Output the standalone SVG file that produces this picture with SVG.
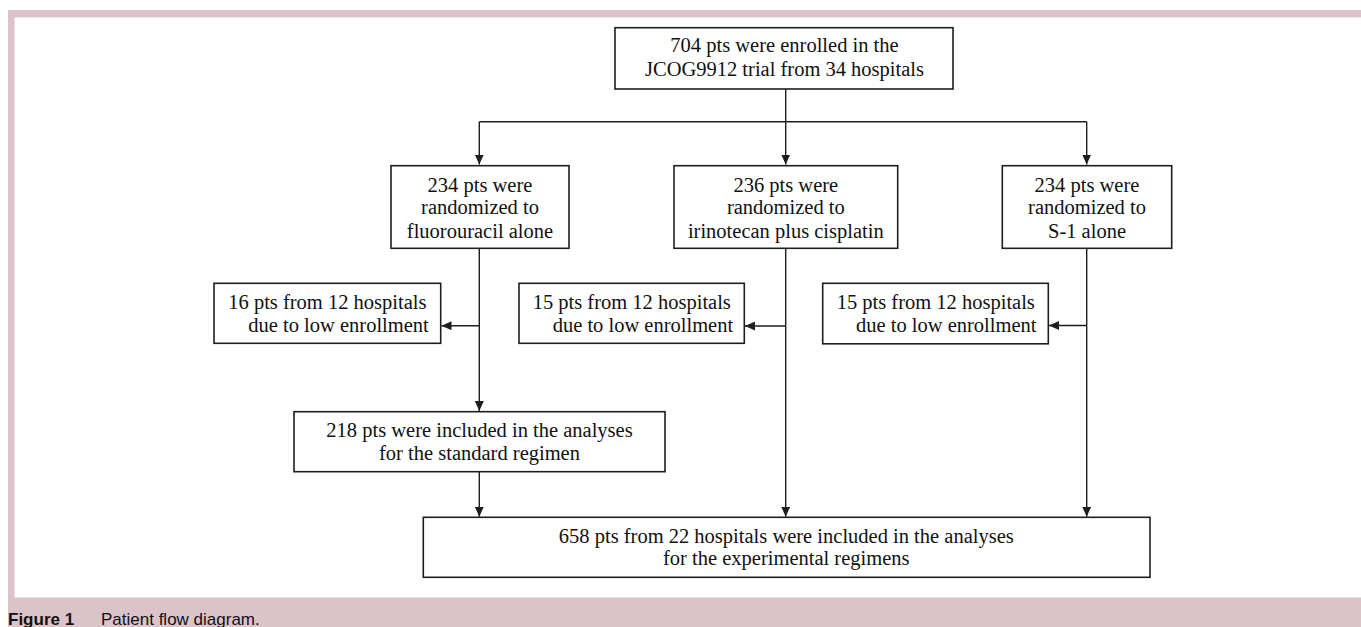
<svg xmlns="http://www.w3.org/2000/svg" width="1361" height="627" viewBox="0 0 1361 627">
  <style>
    .box { fill: #ffffff; stroke: #1e1e1e; stroke-width: 1.6; }
    .t { font-family: "Liberation Serif", "Times New Roman", serif; font-size: 20.5px; fill: #111111; }
    .c { text-anchor: middle; }
    .conn path { fill: none; stroke: #1e1e1e; stroke-width: 1.4; }
    .cap { font-family: "Liberation Sans", Arial, sans-serif; font-size: 17px; fill: #111111; }
  </style>
  <defs>
    <marker id="ah" markerUnits="userSpaceOnUse" markerWidth="10" markerHeight="9" refX="10" refY="4.5" orient="auto">
      <path d="M0,0 L10,4.5 L0,9 z" fill="#1e1e1e"/>
    </marker>
  </defs>

  <rect x="0" y="0" width="1361" height="627" fill="#ffffff"/>
  <g id="frame">
    <rect x="8" y="10" width="1353" height="7.5" fill="#dbc3c9"/>
    <rect x="8" y="10" width="6.5" height="590" fill="#dbc3c9"/>
    <rect x="8" y="597.5" width="1353" height="29.5" fill="#dbc3c9"/>
    <text class="cap" x="8" y="624.5"><tspan font-weight="bold">Figure 1</tspan><tspan x="101">Patient flow diagram.</tspan></text>
  </g>

  <g class="conn" id="connectors">
    <path d="M785.7,89 V164.5" marker-end="url(#ah)"/>
    <path d="M479.3,121.7 H1086.7"/>
    <path d="M479.3,121.7 V164.5" marker-end="url(#ah)"/>
    <path d="M1086.7,121.7 V164.5" marker-end="url(#ah)"/>
    <path d="M479.3,248.3 V411" marker-end="url(#ah)"/>
    <path d="M479.3,325.7 H441.5" marker-end="url(#ah)"/>
    <path d="M479.3,471.7 V516.7" marker-end="url(#ah)"/>
    <path d="M785.7,248.3 V516.7" marker-end="url(#ah)"/>
    <path d="M785.7,326 H745" marker-end="url(#ah)"/>
    <path d="M1086.7,248.3 V516.7" marker-end="url(#ah)"/>
    <path d="M1086.7,325.5 H1049" marker-end="url(#ah)"/>
  </g>

  <g id="n-enrolled">
    <rect class="box" x="615" y="27.7" width="338" height="61.3"/>
    <text class="t c" x="784.5" y="52.3">704 pts were enrolled in the</text>
    <text class="t c" x="784.5" y="75.7">JCOG9912 trial from 34 hospitals</text>
  </g>

  <g id="n-fluorouracil">
    <rect class="box" x="391" y="165.7" width="178" height="82.6"/>
    <text class="t c" x="480" y="191.7">234 pts were</text>
    <text class="t c" x="480" y="214.3">randomized to</text>
    <text class="t c" x="480" y="237.7">fluorouracil alone</text>
  </g>

  <g id="n-irinotecan">
    <rect class="box" x="674" y="165.7" width="223.7" height="82.6"/>
    <text class="t c" x="785.8" y="191.7">236 pts were</text>
    <text class="t c" x="785.8" y="214.3">randomized to</text>
    <text class="t c" x="785.8" y="237.7">irinotecan plus cisplatin</text>
  </g>

  <g id="n-s1">
    <rect class="box" x="1002.3" y="165.7" width="169.4" height="82.6"/>
    <text class="t c" x="1087" y="191.7">234 pts were</text>
    <text class="t c" x="1087" y="214.3">randomized to</text>
    <text class="t c" x="1087" y="237.7">S-1 alone</text>
  </g>

  <g id="n-excl-1">
    <rect class="box" x="214" y="283.3" width="226.7" height="60"/>
    <text class="t" x="228.3" y="309.3">16 pts from 12 hospitals</text>
    <text class="t" x="248.3" y="331.7">due to low enrollment</text>
  </g>

  <g id="n-excl-2">
    <rect class="box" x="519" y="283.3" width="225.3" height="60"/>
    <text class="t" x="532.7" y="309.3">15 pts from 12 hospitals</text>
    <text class="t" x="552.7" y="331.7">due to low enrollment</text>
  </g>

  <g id="n-excl-3">
    <rect class="box" x="822.7" y="283.3" width="225.6" height="60.5"/>
    <text class="t" x="836.7" y="309.3">15 pts from 12 hospitals</text>
    <text class="t" x="856" y="331.7">due to low enrollment</text>
  </g>

  <g id="n-standard">
    <rect class="box" x="294" y="411.7" width="371" height="60"/>
    <text class="t c" x="479.5" y="436.7">218 pts were included in the analyses</text>
    <text class="t c" x="479.5" y="460">for the standard regimen</text>
  </g>

  <g id="n-experimental">
    <rect class="box" x="423.3" y="517.3" width="726.7" height="60"/>
    <text class="t c" x="786.3" y="543.3">658 pts from 22 hospitals were included in the analyses</text>
    <text class="t c" x="786.3" y="565">for the experimental regimens</text>
  </g>
</svg>
